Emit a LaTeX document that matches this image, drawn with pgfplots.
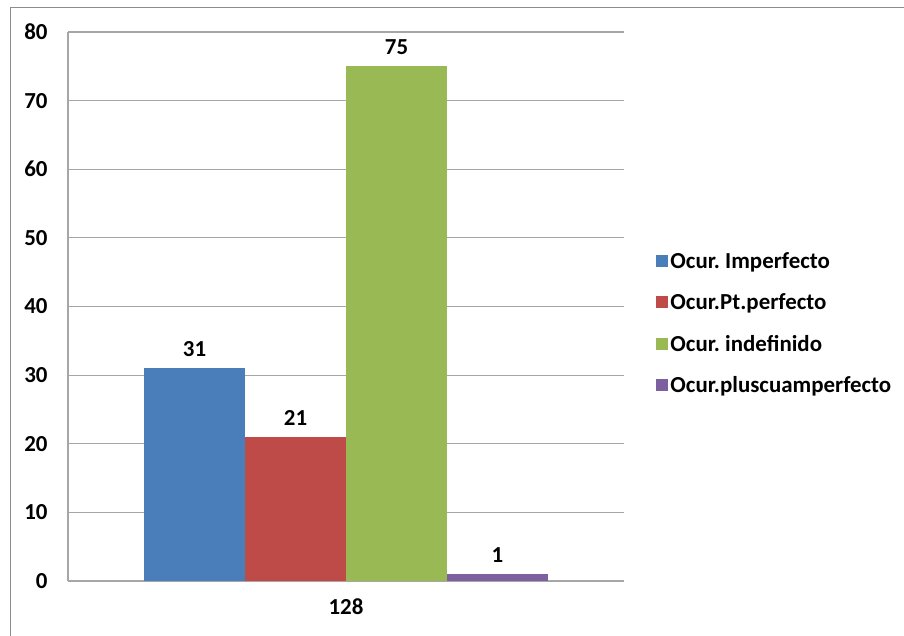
\documentclass[border=0pt]{standalone}
\usepackage{pgfplots}
\pgfplotsset{compat=1.18}
\usepackage{fontspec}
\setmainfont{Carlito}
\frenchspacing
\definecolor{cblue}{HTML}{4A7EBB}
\definecolor{cred}{HTML}{BE4B48}
\definecolor{cgreen}{HTML}{98B954}
\definecolor{cpurple}{HTML}{7D60A0}
\definecolor{gridc}{HTML}{A6A6A6}
\begin{document}
\begin{tikzpicture}[x=1bp,y=1bp]
\useasboundingbox (0,0) rectangle (904,636);
\draw[color=gray!90, line width=1.6bp] (10.5,0) -- (10.5,628.5) -- (904,628.5);
\begin{axis}[
  at={(68bp,55bp)}, anchor=south west,
  scale only axis, width=556bp, height=549bp,
  ybar, bar width=101bp,
  xmin=-1, xmax=1, ymin=0, ymax=80,
  ytick={0,10,...,80},
  xtick={0}, xticklabels={128},
  axis x line*=bottom, axis y line*=left,
  axis line style={gridc, line width=1.2bp},
  ymajorgrids, grid style={gridc, line width=1.2bp},
  major tick length=0pt,
  tick label style={font=\fontsize{23}{27}\selectfont\bfseries},
  /pgf/number format/assume math mode=true,
  yticklabel style={xshift=-17bp},
  xticklabel style={yshift=-14bp},
  nodes near coords,
  every node near coord/.append style={font=\fontsize{23}{27}\selectfont\bfseries, yshift=8bp},
  clip=false,
  legend style={at={(1.058,0.603)}, anchor=north west, draw=none, fill=none,
    font=\fontsize{23}{27}\selectfont\bfseries, row sep=20bp,
    inner sep=0pt, nodes={inner sep=2bp}},
  legend cell align=left,
  legend image code/.code={\fill[#1] (0bp,-6bp) rectangle (12bp,6bp);},
  every legend entry/.append style={xshift=3bp},
]
\addplot[fill=cblue, draw=none, bar shift=-151.5bp] coordinates {(0,31)};
\addplot[fill=cred, draw=none, bar shift=-50.5bp] coordinates {(0,21)};
\addplot[fill=cgreen, draw=none, bar shift=50.5bp] coordinates {(0,75)};
\addplot[fill=cpurple, draw=none, bar shift=151.5bp] coordinates {(0,1)};
\legend{Ocur. Imperfecto, Ocur.Pt.perfecto, Ocur. indefinido, Ocur.pluscuamperfecto}
\end{axis}
\end{tikzpicture}
\end{document}
